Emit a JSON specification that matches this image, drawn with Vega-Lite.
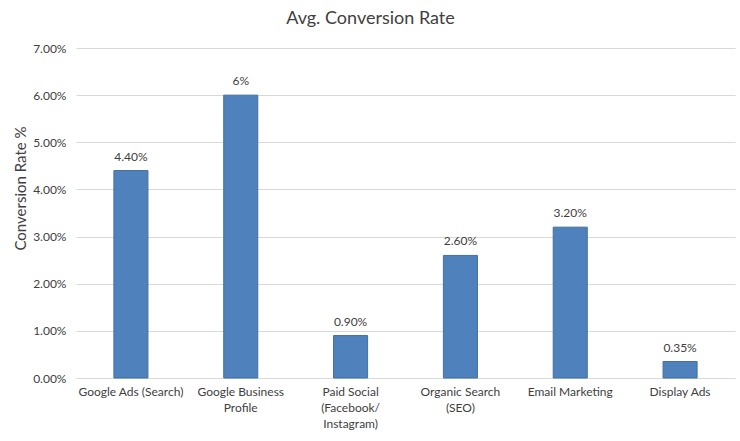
{
  "$schema": "https://vega.github.io/schema/vega-lite/v6.json",
  "width": 659,
  "height": 330,
  "autosize": {"type": "none"},
  "padding": {"left": 76, "top": 48, "right": 5, "bottom": 63},
  "background": "white",
  "title": {
    "text": "Avg. Conversion Rate",
    "font": "Lato",
    "fontSize": 18,
    "fontWeight": "normal",
    "color": "#404040",
    "anchor": "middle",
    "dx": -35,
    "offset": 14
  },
  "config": {
    "view": {"stroke": null},
    "font": "Lato"
  },
  "data": {
    "values": [
      {"channel": "Google Ads (Search)", "rate": 0.044, "label": "4.40%"},
      {"channel": "Google Business Profile", "rate": 0.06, "label": "6%"},
      {"channel": "Paid Social (Facebook/ Instagram)", "rate": 0.009, "label": "0.90%"},
      {"channel": "Organic Search (SEO)", "rate": 0.026, "label": "2.60%"},
      {"channel": "Email Marketing", "rate": 0.032, "label": "3.20%"},
      {"channel": "Display Ads", "rate": 0.0035, "label": "0.35%"}
    ]
  },
  "encoding": {
    "x": {
      "field": "channel",
      "type": "nominal",
      "sort": null,
      "scale": {"paddingInner": 0.69, "paddingOuter": 0.345},
      "axis": {
        "title": null,
        "labelAngle": 0,
        "labelFont": "Lato",
        "labelFontSize": 12,
        "labelColor": "#404040",
        "labelPadding": 8,
        "labelLineHeight": 16,
        "ticks": false,
        "domainColor": "#d9d9d9",
        "labelExpr": "datum.value == 'Google Business Profile' ? ['Google Business', 'Profile'] : datum.value == 'Paid Social (Facebook/ Instagram)' ? ['Paid Social', '(Facebook/', 'Instagram)'] : datum.value == 'Organic Search (SEO)' ? ['Organic Search', '(SEO)'] : datum.value"
      }
    },
    "y": {
      "field": "rate",
      "type": "quantitative",
      "scale": {"domain": [0, 0.07], "nice": false},
      "axis": {
        "title": "Conversion Rate %",
        "titleFont": "Lato",
        "titleFontSize": 15,
        "titleFontWeight": "normal",
        "titleColor": "#404040",
        "titleAngle": -90,
        "titleX": -56,
        "titleY": 140,
        "titleBaseline": "middle",
        "titleAlign": "center",
        "format": ".2%",
        "values": [0, 0.01, 0.02, 0.03, 0.04, 0.05, 0.06, 0.07],
        "labelOverlap": false,
        "labelFont": "Lato",
        "labelFontSize": 12,
        "labelColor": "#404040",
        "labelPadding": 10,
        "ticks": false,
        "domain": false,
        "gridColor": "#d9d9d9"
      }
    }
  },
  "layer": [
    {
      "mark": {"type": "bar", "color": "#4F81BD", "stroke": "#41719C", "strokeWidth": 1}
    },
    {
      "mark": {"type": "text", "baseline": "bottom", "dy": -7, "font": "Lato", "fontSize": 12, "color": "#404040"},
      "encoding": {"text": {"field": "label"}}
    }
  ]
}
